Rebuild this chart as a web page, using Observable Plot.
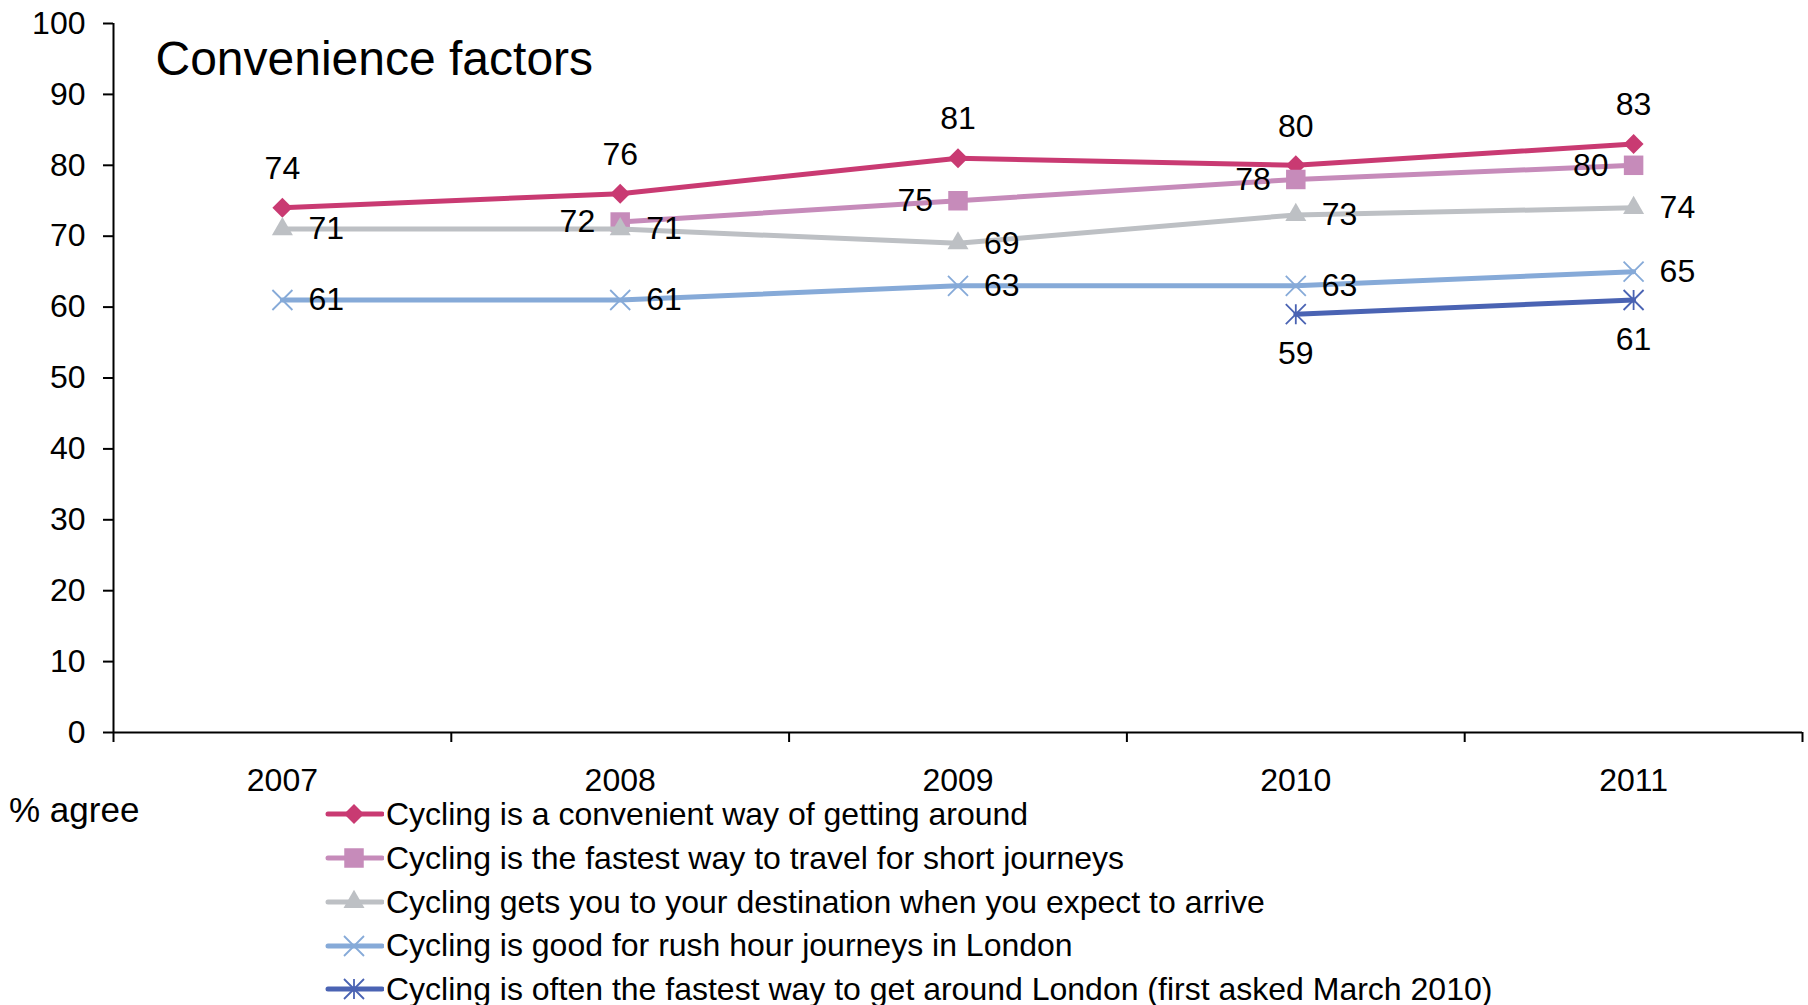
<!DOCTYPE html>
<html><head><meta charset="utf-8">
<script src="https://cdn.jsdelivr.net/npm/d3@7"></script>
<script src="https://cdn.jsdelivr.net/npm/@observablehq/plot@0.6"></script>
<style>
body{margin:0;background:#fff;font-family:"Liberation Sans",Arial,sans-serif;color:#000;}
#wrap{position:relative;width:1808px;height:1005px;overflow:hidden;background:#fff;}
#ylab{position:absolute;left:9px;top:788px;font-size:35px;line-height:44px;white-space:nowrap;}
.row{position:absolute;left:324px;height:44px;display:flex;align-items:center;font-size:32px;white-space:nowrap;}
.row svg{display:block;margin-right:2px;}
</style></head>
<body><div id="wrap"><div id="chart"></div><div id="ylab">% agree</div><div id="legend"></div></div>
<script>
const years = [2007, 2008, 2009, 2010, 2011];
const seriesNames = [
  "Cycling is a convenient way of getting around",
  "Cycling is the fastest way to travel for short journeys",
  "Cycling gets you to your destination when you expect to arrive",
  "Cycling is good for rush hour journeys in London",
  "Cycling is often the fastest way to get around London (first asked March 2010)"
];
const convenient    = [74, 76, 81, 80, 83];
const fastestShort  = [null, 72, 75, 78, 80];
const destination   = [71, 71, 69, 73, 74];
const rushHour      = [61, 61, 63, 63, 65];
const fastestLondon = [null, null, null, 59, 61];
const yTicks = [0, 10, 20, 30, 40, 50, 60, 70, 80, 90, 100];
const chartTitle = "Convenience factors";
const yLabel = "% agree";

// Excel-style star marker: an X plus a vertical bar
const starSymbol = {
  draw(context, size) {
    const r = Math.sqrt(size / Math.PI);
    context.moveTo(-r, -r); context.lineTo(r, r);
    context.moveTo(-r, r); context.lineTo(r, -r);
    context.moveTo(0, -r); context.lineTo(0, r);
  }
};
const timesSymbol = {
  draw(context, size) {
    const r = Math.sqrt(size / Math.PI);
    context.moveTo(-r, -r); context.lineTo(r, r);
    context.moveTo(-r, r); context.lineTo(r, -r);
  }
};

const seriesValues = [convenient, fastestShort, destination, rushHour, fastestLondon];
const styles = [
  {color: "#C93A72", symbol: d3.symbolDiamond2, r: 9.0,  filled: true,  label: "top"},
  {color: "#C68BBA", symbol: d3.symbolSquare,   r: 11.0, filled: true,  label: "left"},
  {color: "#BDC0C4", symbol: d3.symbolTriangle, r: 7.8,  filled: true,  label: "right"},
  {color: "#86AAD8", symbol: timesSymbol,       r: 10.0, filled: false, label: "right"},
  {color: "#4A63B3", symbol: starSymbol,        r: 10.0, filled: false, label: "bottom"}
];
const labelOpts = {
  top:    {dy: -39, textAnchor: "middle"},
  left:   {dx: -25, textAnchor: "end"},
  right:  {dx: 26,  textAnchor: "start"},
  bottom: {dy: 40,  textAnchor: "middle"}
};

const tables = seriesValues.map((vals, i) =>
  years.map((y, j) => ({series: seriesNames[i], year: y, value: vals[j]})).filter(d => d.value != null));

const boundaries = years.map(y => y - 0.5).concat([years[years.length - 1] + 0.5]);

const dataMarks = [];
tables.forEach((data, i) => {
  const st = styles[i];
  dataMarks.push(Plot.line(data, {x: "year", y: "value", stroke: st.color, strokeWidth: 5}));
  dataMarks.push(Plot.dot(data, {x: "year", y: "value", symbol: st.symbol, r: st.r,
    fill: st.filled ? st.color : "none", stroke: st.filled ? "none" : st.color, strokeWidth: st.filled ? 0 : 1.8}));
});
tables.forEach((data, i) => {
  const st = styles[i];
  dataMarks.push(Plot.text(data, {x: "year", y: "value", text: d => String(d.value), fill: "black", lineAnchor: "middle", ...labelOpts[st.label]}));
});

const plot = Plot.plot({
  width: 1808, height: 795,
  marginLeft: 113, marginRight: 6, marginTop: 23, marginBottom: 63,
  style: {fontFamily: '"Liberation Sans", Arial, sans-serif', fontSize: "32px", color: "black", background: "white", overflow: "visible"},
  x: {domain: [boundaries[0], boundaries[boundaries.length - 1]]},
  y: {domain: [0, 100]},
  marks: [
    Plot.axisY({ticks: yTicks, tickSize: 10, tickPadding: 18, strokeWidth: 2, label: null, tickFormat: d => String(d)}),
    Plot.axisX({ticks: years, tickSize: 0, tickPadding: 36, label: null, tickFormat: d => String(d)}),
    Plot.axisX({ticks: boundaries, tickSize: 10, strokeWidth: 2, label: null, tickFormat: () => ""}),
    Plot.ruleX([boundaries[0]], {stroke: "black", strokeWidth: 2}),
    Plot.ruleY([0], {stroke: "black", strokeWidth: 2}),
    Plot.text([chartTitle], {frameAnchor: "top-left", dx: 42, dy: 36, lineAnchor: "middle", textAnchor: "start", fontSize: 48, fill: "black"}),
    ...dataMarks
  ]
});
document.getElementById("chart").appendChild(plot);
document.getElementById("ylab").textContent = yLabel;

// legend
const legend = document.getElementById("legend");
const rowCenters = [814, 858, 902, 945.5, 989];
seriesNames.forEach((name, i) => {
  const st = styles[i];
  const row = document.createElement("div");
  row.className = "row";
  row.style.top = (rowCenters[i] - 22) + "px";
  const sym = d3.symbol(st.symbol, Math.PI * st.r * st.r)();
  row.innerHTML = `<svg width="60" height="44"><line x1="4" x2="58" y1="22" y2="22" stroke="${st.color}" stroke-width="5" stroke-linecap="round"/>` +
    `<path transform="translate(30,22)" d="${sym}" fill="${st.filled ? st.color : "none"}" stroke="${st.filled ? "none" : st.color}" stroke-width="${st.filled ? 0 : 1.8}"/></svg><span>${name}</span>`;
  legend.appendChild(row);
});
</script>
</body></html>
